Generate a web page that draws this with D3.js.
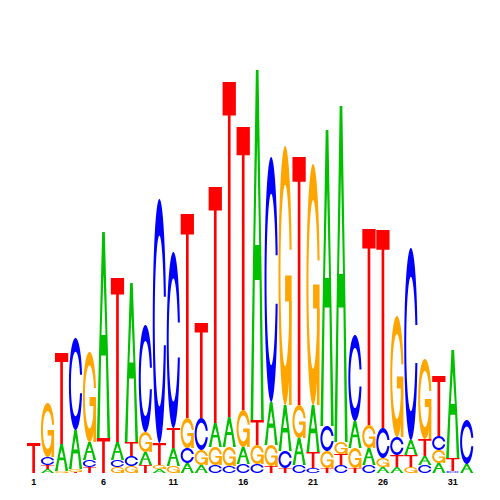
<!DOCTYPE html>
<html>
<head>
<meta charset="utf-8">
<script src="https://cdn.jsdelivr.net/npm/d3@7"></script>
<style>
body { margin: 0; background: #fff; }
</style>
</head>
<body>
<script>
// motif columns, heights in bits
const positions = [1, 2, 3, 4, 5, 6, 7, 8, 9, 10, 11, 12, 13, 14, 15, 16,
                   17, 18, 19, 20, 21, 22, 23, 24, 25, 26, 27, 28, 29, 30, 31, 32]
const tickPositions = [1, 6, 11, 16, 21, 26, 31]

const bitsA = [0, 0.02, 0.135, 0.195, 0.09, 1.03, 0.09, 0.795, 0.065, 0.02, 0.09, 0.05, 0.04, 0.12, 0.15, 0.085,
               1.75, 0.215, 0.23, 0.135, 0.235, 1.48, 1.68, 0.135, 0.085, 0.03, 0.03, 0.075, 0.045, 0.05, 0.54, 0.045]
const bitsC = [0, 0.04, 0, 0.46, 0.035, 0, 0.035, 0.05, 0.535, 1.22, 0.88, 0.075, 0.16, 0.04, 0.035, 0.045,
               0.045, 1.225, 0.085, 0.04, 0.025, 0.125, 0.04, 0.43, 0.04, 0.15, 0.09, 0.96, 0.04, 0.07, 0.01, 0.22]
const bitsG = [0, 0.27, 0.01, 0.015, 0.45, 0, 0.03, 0.035, 0.1, 0.02, 0.035, 0.15, 0.075, 0.09, 0.095, 0.185,
               0.095, 0.105, 1.295, 0.165, 1.205, 0.085, 0.06, 0.1, 0.115, 0.045, 0.605, 0.03, 0.4, 0.065, 0, 0]
const bitsT = [0.15, 0.02, 0.455, 0.005, 0.03, 0.175, 0.82, 0.07, 0.04, 0.11, 0.1, 1.02, 0.475, 1.18, 1.675, 1.415,
               0.125, 0.035, 0.025, 1.24, 0.08, 0.025, 0.055, 0.025, 0.98, 0.99, 0.06, 0.06, 0.085, 0.3, 0.065, 0]

const bases = ['A', 'C', 'G', 'T']
const bits = {A: bitsA, C: bitsC, G: bitsG, T: bitsT}
const colors = {A: '#00c000', C: '#0000ff', G: '#ffa500', T: '#ff0000'}

const width = 500
const height = 500

const svg = d3.select('body').append('svg')
    .attr('width', width)
    .attr('height', height)

const x = d3.scaleBand().domain(positions).range([27, 473.4]).paddingInner(0.05)
const y = d3.scaleLinear().domain([0, 2]).range([473, 73])

// letter outlines in a unit box, y up
function ringC(gap) {
    const a1 = d3.range(100).map(i => Math.PI / 2 + gap + i * (Math.PI / 2 - gap) / 99)
    const a2 = d3.range(100).map(i => Math.PI + i * (Math.PI / 2) / 99)
    const arc = (as, r) => as.map(a => [0.5 + r * Math.sin(a), 0.5 + r * Math.cos(a)])
    const outerLow = arc(a1, 0.5).concat(arc(a2, 0.5))
    const cut = d3.max(arc(a1, 0.5), p => p[1])
    const in1 = arc(a1, 0.35).filter(p => p[1] <= cut)
    in1[0] = [in1[0][0], cut]
    const innerLow = in1.concat(arc(a2, 0.35))
    const mirror = pts => pts.slice().reverse().map(p => [p[0], 1 - p[1]])
    const outer = outerLow.concat(mirror(outerLow))
    const inner = innerLow.concat(mirror(innerLow))
    return outer.concat(inner.slice().reverse())
}

const gap = 0.2
const cShape = ringC(gap)
const r1 = 0.5 + 0.5 * Math.sin(Math.PI / 2 + gap)
const h1 = 0.5

const glyphs = {
    A: [[[[0, 0], [0.4, 1], [0.6, 1], [1, 0], [0.8, 0], [0.68, 0.4], [0.32, 0.4], [0.2, 0]],
         [[0.35, 0.5], [0.5, 0.8], [0.65, 0.5]]]],
    C: [[cShape]],
    G: [[cShape],
        [[[r1, h1], [0.5, h1], [0.5, h1 - 0.1], [r1 - 0.2, h1 - 0.1], [r1 - 0.2, 0], [r1, 0]]]],
    T: [[[[0, 1], [1, 1], [1, 0.9], [0.6, 0.9], [0.6, 0], [0.4, 0], [0.4, 0.9], [0, 0.9]]]]
}

// stack each column, smallest letter at the bottom
const stacks = positions.map((pos, i) => {
    const items = bases.map(b => ({base: b, h: bits[b][i]}))
        .filter(d => d.h > 0)
        .sort((a, b) => a.h - b.h)
    let acc = 0
    items.forEach(d => { d.y0 = acc; acc += d.h; d.y1 = acc; d.pos = pos })
    return items
})

const line = d3.line()

const letterPaths = (d) => {
    const x0 = x(d.pos)
    const w = x.bandwidth()
    const yb = y(d.y0)
    const yt = y(d.y1)
    return glyphs[d.base].map(rings =>
        rings.map(r => line(r.map(p => [x0 + w * p[0], yb - (yb - yt) * p[1]])) + 'Z').join(''))
}

const letters = svg.append('g')
    .selectAll('g')
    .data(stacks.flat())
    .enter()
    .append('g')

letters.selectAll('path')
    .data(d => letterPaths(d).map(p => ({p, base: d.base})))
    .enter()
    .append('path')
    .attr('d', d => d.p)
    .attr('fill', d => colors[d.base])
    .attr('fill-rule', 'evenodd')

const axis = svg.append('g')
    .attr('transform', `translate(0,${y(0)})`)
    .call(d3.axisBottom(x).tickValues(tickPositions).tickSize(0).tickPadding(6))

axis.select('.domain').remove()
axis.attr('font-size', 9)
    .attr('font-family', '"Liberation Sans", Arial, sans-serif')
    .attr('font-weight', 'bold')
</script>
</body>
</html>
